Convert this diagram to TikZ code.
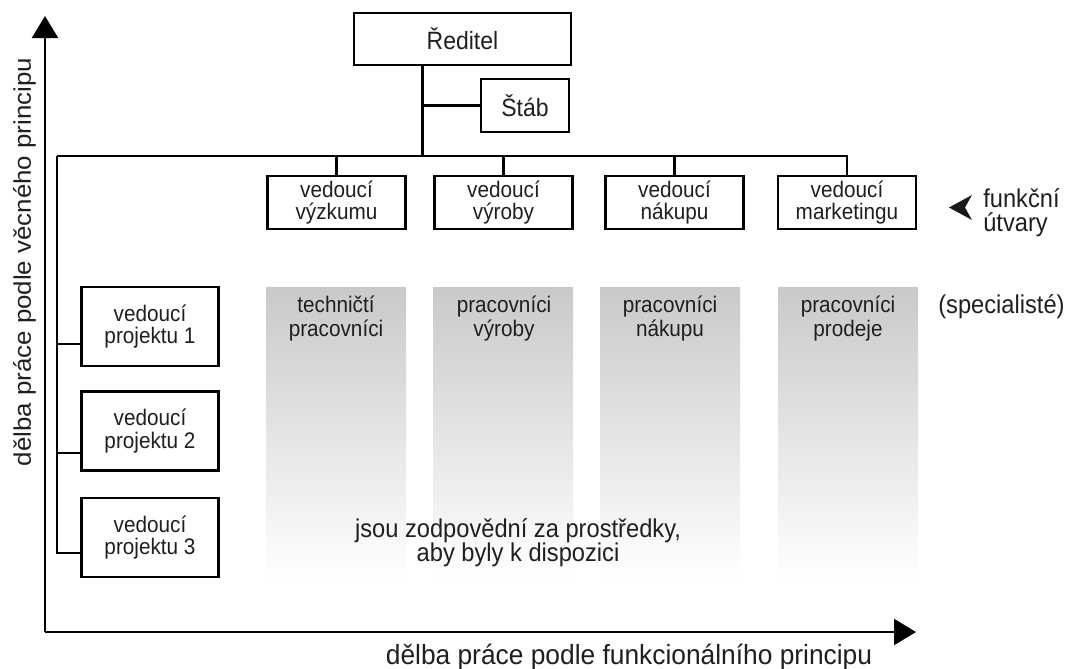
\documentclass[tikz,border=0pt]{standalone}
\usepackage{fontspec}
\setmainfont{Liberation Sans}
\newfontfamily\narrowsans[FakeStretch=0.92]{Liberation Sans}
\newfontfamily\axissans[FakeStretch=0.95]{Liberation Sans}
\usetikzlibrary{arrows.meta}
\begin{document}
\begin{tikzpicture}[x=0.75pt,y=-0.75pt,
  box/.style={draw,line width=1.7pt,inner sep=0pt,align=center,text=black!88,
    font=\narrowsans\fontsize{16.9}{16.8}\selectfont},
  topbox/.style={box,font=\narrowsans\fontsize{18.75}{20}\selectfont},
  funcbox/.style={box,minimum width=103.5pt,minimum height=39.75pt},
  projbox/.style={box,minimum width=102.75pt,minimum height=59.25pt},
  link/.style={line width=1.7pt},
  axis/.style={line width=1.6pt,-{Triangle[length=16.5pt,width=19.5pt]}},
  column/.style={top color=black!21,bottom color=white,draw=none},
  coltext/.style={align=center,inner sep=0pt,text=black!88,
    font=\narrowsans\fontsize{16.9}{18}\selectfont},
  label/.style={inner sep=0pt,text=black!88,font=\narrowsans\fontsize{19.3}{17.6}\selectfont},
  axislabel/.style={inner sep=0pt,text=black!88}
]
\useasboundingbox (0,0) rectangle (1067,668);

% shaded staff columns
\shade[column] (266,287) rectangle (406,580);
\shade[column] (433,287) rectangle (573,580);
\shade[column] (600,287) rectangle (740,580);
\shade[column] (778,287) rectangle (918,580);

\node[coltext] (c1) at (336,319) {techničtí\\pracovníci};
\node[coltext] (c2) at (504,319) {pracovníci\\výroby};
\node[coltext] (c3) at (670,319) {pracovníci\\nákupu};
\node[coltext] (c4) at (848,319) {pracovníci\\prodeje};

\node[align=center,inner sep=0pt,text=black!88,font=\narrowsans\fontsize{19.3}{18}\selectfont]
  (res) at (518,543) {jsou zodpovědní za prostředky,\\aby byly k dispozici};

% top management
\node[topbox,minimum width=162.75pt,minimum height=39pt] (dir) at (462.5,39) {Ředitel};
\node[topbox,minimum width=66pt,minimum height=39.75pt] (staff) at (525,105.5) {Štáb};

% functional departments
\node[funcbox] (f1) at (336.5,202.5) {vedoucí\\výzkumu};
\node[funcbox] (f2) at (503.5,202.5) {vedoucí\\výroby};
\node[funcbox] (f3) at (674.5,202.5) {vedoucí\\nákupu};
\node[funcbox] (f4) at (847,202.5) {vedoucí\\marketingu};

% project leaders
\node[projbox] (p1) at (150,326.5) {vedoucí\\projektu 1};
\node[projbox] (p2) at (150,431) {vedoucí\\projektu 2};
\node[projbox] (p3) at (150,537.5) {vedoucí\\projektu 3};

% bus lines
\coordinate (trunk) at (422.5,156);
\coordinate (busL) at (57,156);
\coordinate (t1) at (57,344);
\coordinate (t2) at (57,453);
\coordinate (t3) at (57,553);

\draw[link] (dir.south -| trunk) -- (trunk);
\draw[link] (staff.west) -- (staff.west -| trunk);
\draw[link] (busL) -- (f4.north |- busL) -- (f4.north);
\draw[link] (f1.north) -- (f1.north |- busL);
\draw[link] (f2.north) -- (f2.north |- busL);
\draw[link] (f3.north) -- (f3.north |- busL);
\draw[link] (busL) -- (t3) -- (t3 -| p3.west);
\draw[link] (t1) -- (t1 -| p1.west);
\draw[link] (t2) -- (t2 -| p2.west);

% axes
\coordinate (O) at (45,632);
\coordinate (ytip) at (45,16);
\coordinate (xtip) at (916,632);
\draw[axis] (O) -- (ytip);
\draw[axis] (O) -- (xtip);

\node[axislabel,rotate=90,anchor=base] (ylab) at (31,262)
  {\scalebox{1}[0.93]{\fontsize{19.4}{20}\selectfont dělba práce podle věcného principu}};
\node[axislabel,anchor=base,font=\axissans\fontsize{20.8}{22}\selectfont] (xlab) at (629,664)
  {dělba práce podle funkcionálního principu};

% side labels
\fill[black!90] (949,207.5) -- (972,195) -- (965,207.5) -- (972,220) -- cycle;
\node[label,align=left,anchor=west] (fu) at (983,212.5) {funkční\\útvary};
\node[label,anchor=base west] (spec) at (938,313) {(specialisté)};
\end{tikzpicture}
\end{document}
